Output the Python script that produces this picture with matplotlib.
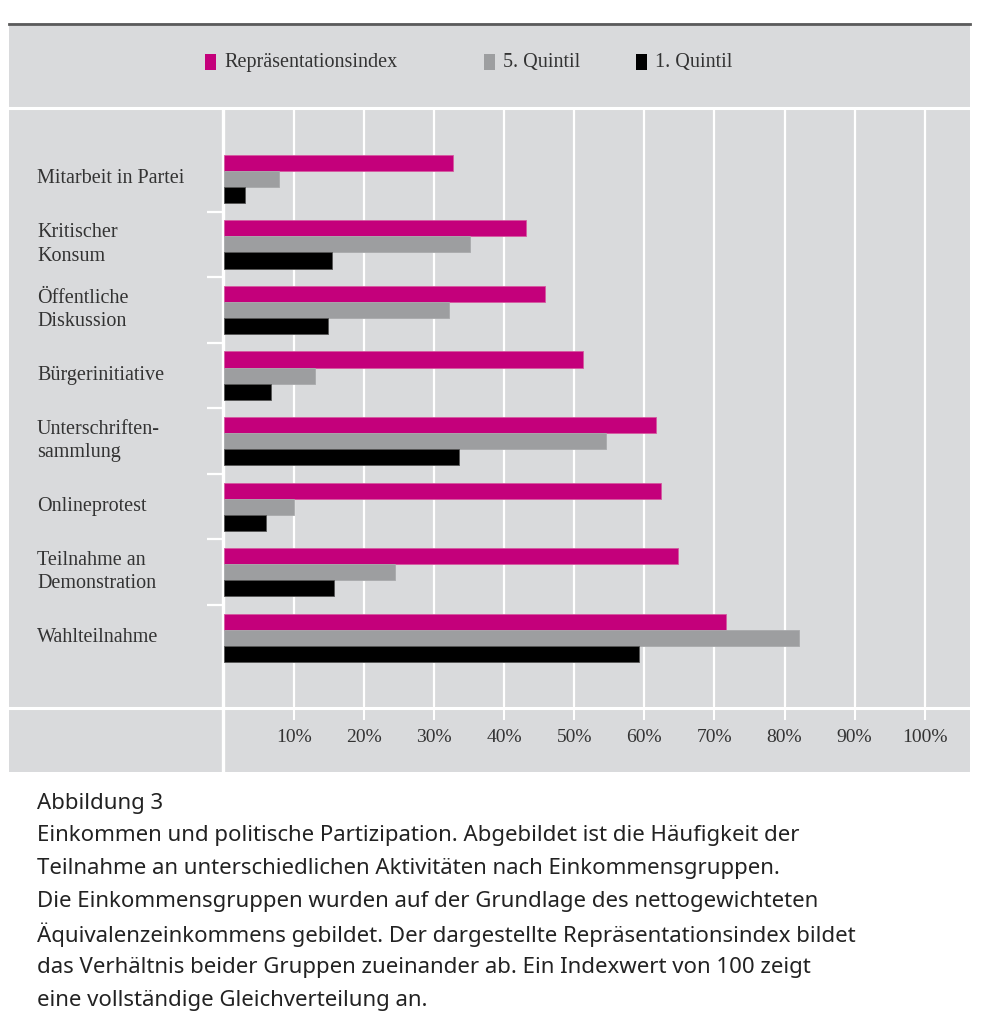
import matplotlib
matplotlib.use("Agg")
import matplotlib.pyplot as plt
from matplotlib.patches import Rectangle
from matplotlib.lines import Line2D
from matplotlib.transforms import blended_transform_factory
import numpy as np

# data
categories = ["Mitarbeit in Partei", "Kritischer\nKonsum", "Öffentliche\nDiskussion",
              "Bürgerinitiative", "Unterschriften-\nsammlung", "Onlineprotest",
              "Teilnahme an\nDemonstration", "Wahlteilnahme"]
repr_index = [32.7, 43.1, 45.9, 51.3, 61.6, 62.4, 64.8, 71.7]
quintil_5 = [7.9, 35.2, 32.2, 13.0, 54.6, 10.0, 24.4, 82.0]
quintil_1 = [3.0, 15.5, 14.9, 6.8, 33.6, 6.1, 15.8, 59.3]
series_names = ["Repräsentationsindex", "5. Quintil", "1. Quintil"]
xticks = [10, 20, 30, 40, 50, 60, 70, 80, 90, 100]
caption_title = "Abbildung 3"
caption_lines = [
    "Einkommen und politische Partizipation. Abgebildet ist die Häufigkeit der",
    "Teilnahme an unterschiedlichen Aktivitäten nach Einkommensgruppen.",
    "Die Einkommensgruppen wurden auf der Grundlage des nettogewichteten",
    "Äquivalenzeinkommens gebildet. Der dargestellte Repräsentationsindex bildet",
    "das Verhältnis beider Gruppen zueinander ab. Ein Indexwert von 100 zeigt",
    "eine vollständige Gleichverteilung an.",
]

colors = ["#c4007b", "#9d9ea0", "#000000"]
edges = ["#d45aa0", "#a9aaac", "#555555"]
panel = "#d9dadc"
label_font = "Liberation Serif"
caption_font = "Noto Sans"

W, H = 987, 1021
fig = plt.figure(figsize=(W / 100, H / 100), dpi=100)


def fx(px):
    return px / W


def fy(py):
    return 1 - py / H


# grey panel and its top rule
fig.patches.append(Rectangle((fx(9), fy(772)), fx(970) - fx(9), fy(23) - fy(772),
                             transform=fig.transFigure, facecolor=panel, edgecolor="none", zorder=-2))
fig.lines.append(Line2D([fx(9), fx(970)], [fy(24), fy(24)], transform=fig.transFigure,
                        color="#5b5b5b", lw=2.0, zorder=-1))
# white separators
for py in (108, 708):
    fig.lines.append(Line2D([fx(9), fx(970)], [fy(py), fy(py)], transform=fig.transFigure,
                            color="white", lw=2.2, zorder=-1))
fig.lines.append(Line2D([fx(223), fx(223)], [fy(110), fy(772)], transform=fig.transFigure,
                        color="white", lw=2.4, zorder=-1))

# plot area
x0, x1 = 223.7, 970
ax = fig.add_axes((fx(x0), fy(706), fx(x1) - fx(x0), fy(110) - fy(706)))
ax.set_zorder(2)
ax.set_facecolor("none")
for s in ax.spines.values():
    s.set_visible(False)

n = len(categories)
y = np.arange(n)
h = 0.245
for k, vals in enumerate([repr_index, quintil_5, quintil_1]):
    ax.barh(y + (k - 1) * h, vals, height=h, color=colors[k],
            edgecolor=edges[k], linewidth=0.6, zorder=3, label=series_names[k])

ax.set_xlim(0, (x1 - x0) / 7.01)
ax.set_ylim(n - 1 + 1.04, -1.05)
ax.set_xticks(xticks)
ax.set_xticklabels([f"{t}%" for t in xticks], fontfamily=label_font, fontsize=14, color="#333333")
ax.tick_params(axis="x", direction="out", length=10, width=1.5, color="white", pad=6.5)
ax.grid(axis="x", color="white", lw=1.6, zorder=1)
ax.set_yticks(np.arange(n - 1) + 0.5)
ax.set_yticklabels([])
ax.tick_params(axis="y", direction="out", length=12.5, width=1.6, color="white")

trans = blended_transform_factory(fig.transFigure, ax.transData)
for i, cat in enumerate(categories):
    ax.text(fx(37), i, cat, transform=trans, ha="left", va="center",
            fontfamily=label_font, fontsize=14.5, color="#333333", linespacing=1.3)

# legend
leg_x = [205, 484, 636]
for k, name in enumerate(series_names):
    fig.patches.append(Rectangle((fx(leg_x[k]), fy(70)), fx(11), fy(54) - fy(70),
                                 transform=fig.transFigure, facecolor=colors[k], edgecolor="none"))
    fig.text(fx(leg_x[k] + 19), fy(62), name, ha="left", va="center",
             fontfamily=label_font, fontsize=14.5, color="#333333")

# caption
fig.text(fx(37), fy(803), caption_title, ha="left", va="center", fontfamily=caption_font,
         fontsize=16, color="#222222")
for j, line in enumerate(caption_lines):
    fig.text(fx(37), fy(835.5 + j * 33), line, ha="left", va="center", fontfamily=caption_font,
             fontsize=16, color="#222222")

fig.savefig("out.png", dpi=100, facecolor="white")
